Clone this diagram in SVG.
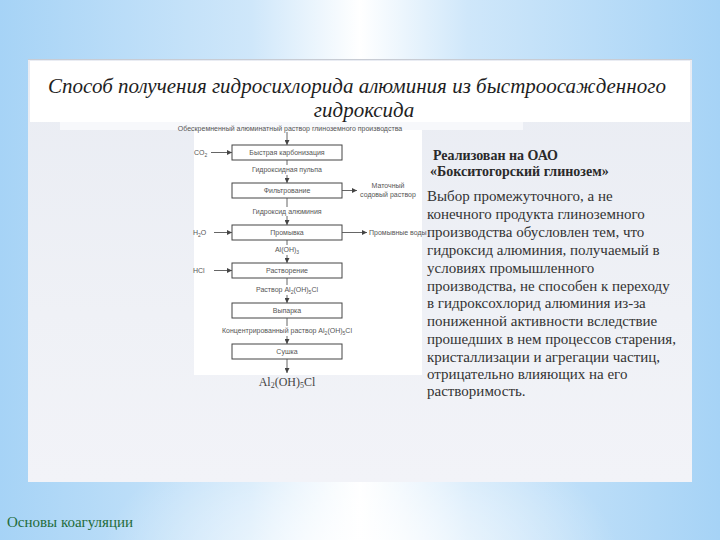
<svg xmlns="http://www.w3.org/2000/svg" width="720" height="540" viewBox="0 0 720 540">
<defs>
<linearGradient id="bg" x1="0" y1="0" x2="1" y2="0">
<stop offset="0" stop-color="#a6d3f6"/>
<stop offset="0.35" stop-color="#cfe7fa"/>
<stop offset="0.5" stop-color="#ffffff"/>
<stop offset="0.65" stop-color="#cfe7fa"/>
<stop offset="1" stop-color="#a6d3f6"/>
</linearGradient>
<radialGradient id="glow" cx="0.5" cy="0.5" r="0.5">
<stop offset="0" stop-color="#ffffff" stop-opacity="0.9"/>
<stop offset="1" stop-color="#ffffff" stop-opacity="0"/>
</radialGradient>
<linearGradient id="panel" x1="0" y1="0" x2="0" y2="1">
<stop offset="0" stop-color="#e9ecf3"/>
<stop offset="0.6" stop-color="#eff1f6"/>
<stop offset="1" stop-color="#f2f3f8"/>
</linearGradient>
<marker id="ah" viewBox="0 0 6 6" refX="6" refY="3" markerWidth="5" markerHeight="5" orient="auto" markerUnits="userSpaceOnUse">
<path d="M0,0 L6,3 L0,6 z" fill="#444"/>
</marker>
<style>
.box{fill:#ffffff;stroke:#444;stroke-width:1}
.bt{font-size:7px;fill:#555;text-anchor:middle}
.lt{font-size:7px;fill:#555}
.cn line{stroke:#555;stroke-width:0.9}
.ar{marker-end:url(#ah)}
.rt{font-size:15px;fill:#333}
.hd{font-size:14px;font-weight:bold;fill:#2a2a2a}
.ttl{font-style:italic;font-size:21px;fill:#1e1e1e;text-anchor:middle}
</style>
</defs>
<rect x="0" y="0" width="720" height="540" fill="url(#bg)"/>
<ellipse cx="360" cy="560" rx="260" ry="140" fill="url(#glow)"/>
<rect x="28" y="59" width="664" height="423" fill="url(#panel)"/>
<rect x="30" y="61" width="660" height="61" fill="#ffffff"/>
<line x1="28" y1="59.5" x2="692" y2="59.5" stroke="#c8ccd4" stroke-width="1"/>
<rect x="60" y="122" width="463" height="8" fill="#f7f8fb"/>
<rect x="194" y="130" width="228" height="245" fill="#ffffff"/>

<g id="title" font-family="Liberation Serif, serif">
<text class="ttl" x="357" y="93">Способ получения гидросихлорида алюминия из быстроосажденного</text>
<text class="ttl" x="364" y="117">гидроксида</text>
</g>

<g font-family="Liberation Sans, sans-serif">
<g id="source">
<text class="bt" x="290" y="130.5" font-size="6.3">Обескремненный алюминатный раствор глиноземного производства</text>
</g>

<g id="b1"><rect class="box" x="232" y="145" width="110" height="15"/><text class="bt" x="287" y="155">Быстрая карбонизация</text></g>
<g id="b2"><rect class="box" x="232" y="183" width="110" height="15"/><text class="bt" x="287" y="193">Фильтрование</text></g>
<g id="b3"><rect class="box" x="232" y="225" width="110" height="15"/><text class="bt" x="287" y="235">Промывка</text></g>
<g id="b4"><rect class="box" x="232" y="263" width="110" height="15"/><text class="bt" x="287" y="273">Растворение</text></g>
<g id="b5"><rect class="box" x="232" y="303" width="110" height="15"/><text class="bt" x="287" y="313">Выпарка</text></g>
<g id="b6"><rect class="box" x="232" y="344" width="110" height="15"/><text class="bt" x="287" y="354">Сушка</text></g>

<g id="labels">
<text class="bt" x="287" y="172">Гидроксидная пульпа</text>
<text class="bt" x="287" y="214">Гидроксид алюминия</text>
<text class="bt" x="287" y="252">Al(OH)<tspan font-size="5" dy="1.5">3</tspan></text>
<text class="bt" x="287" y="292">Раствор Al<tspan font-size="5" dy="1.5">2</tspan><tspan dy="-1.5">(OH)</tspan><tspan font-size="5" dy="1.5">5</tspan><tspan dy="-1.5">Cl</tspan></text>
<text class="bt" x="287" y="333">Концентрированный раствор Al<tspan font-size="5" dy="1.5">2</tspan><tspan dy="-1.5">(OH)</tspan><tspan font-size="5" dy="1.5">5</tspan><tspan dy="-1.5">Cl</tspan></text>
<text class="lt" x="194" y="155">CO<tspan font-size="5" dy="1.5">2</tspan></text>
<text class="lt" x="193" y="235">H<tspan font-size="5" dy="1.5">2</tspan><tspan dy="-1.5">O</tspan></text>
<text class="lt" x="193" y="273">HCl</text>
<text class="bt" x="388" y="188">Маточный</text>
<text class="bt" x="388" y="197">содовый раствор</text>
<text class="lt" x="369" y="235" font-size="6">Промывные воды</text>
</g>
</g>
<g id="product">
<text x="287" y="386" font-family="Liberation Serif, serif" font-size="12" fill="#444" text-anchor="middle">Al<tspan font-size="8" dy="2">2</tspan><tspan dy="-2">(OH)</tspan><tspan font-size="8" dy="2">5</tspan><tspan dy="-2">Cl</tspan></text>
</g>

<g id="connectors" class="cn">
<line class="ar" x1="287" y1="132" x2="287" y2="145"/>
<line x1="287" y1="160" x2="287" y2="165"/>
<line class="ar" x1="287" y1="175" x2="287" y2="183"/>
<line x1="287" y1="198" x2="287" y2="207"/>
<line class="ar" x1="287" y1="216" x2="287" y2="225"/>
<line x1="287" y1="240" x2="287" y2="245"/>
<line class="ar" x1="287" y1="255" x2="287" y2="263"/>
<line x1="287" y1="278" x2="287" y2="285"/>
<line class="ar" x1="287" y1="295" x2="287" y2="303"/>
<line x1="287" y1="318" x2="287" y2="326"/>
<line class="ar" x1="287" y1="336" x2="287" y2="344"/>
<line class="ar" x1="287" y1="359" x2="287" y2="373"/>
<line class="ar" x1="211" y1="152.5" x2="232" y2="152.5"/>
<line class="ar" x1="214" y1="232.5" x2="232" y2="232.5"/>
<line class="ar" x1="214" y1="270.5" x2="232" y2="270.5"/>
<line class="ar" x1="342" y1="190.5" x2="357" y2="190.5"/>
<line class="ar" x1="342" y1="232.5" x2="367" y2="232.5"/>
</g>

<g id="info" font-family="Liberation Serif, serif">
<text class="hd" x="433" y="160">Реализован на ОАО</text>
<text class="hd" x="430" y="176">«Бокситогорский глинозем»</text>
<text class="rt" x="427" y="201">Выбор промежуточного, а не</text>
<text class="rt" x="427" y="219">конечного продукта глиноземного</text>
<text class="rt" x="427" y="237">производства обусловлен тем, что</text>
<text class="rt" x="427" y="255">гидроксид алюминия, получаемый в</text>
<text class="rt" x="427" y="273">условиях промышленного</text>
<text class="rt" x="427" y="291">производства, не способен к переходу</text>
<text class="rt" x="427" y="308">в гидроксохлорид алюминия из-за</text>
<text class="rt" x="427" y="326">пониженной активности вследствие</text>
<text class="rt" x="427" y="344">прошедших в нем процессов старения,</text>
<text class="rt" x="427" y="362">кристаллизации и агрегации частиц,</text>
<text class="rt" x="427" y="379">отрицательно влияющих на его</text>
<text class="rt" x="427" y="396">растворимость.</text>
</g>

<g id="footer">
<text x="7" y="527" font-family="Liberation Serif, serif" font-size="15" fill="#1f6b3a">Основы коагуляции</text>
</g>
</svg>
